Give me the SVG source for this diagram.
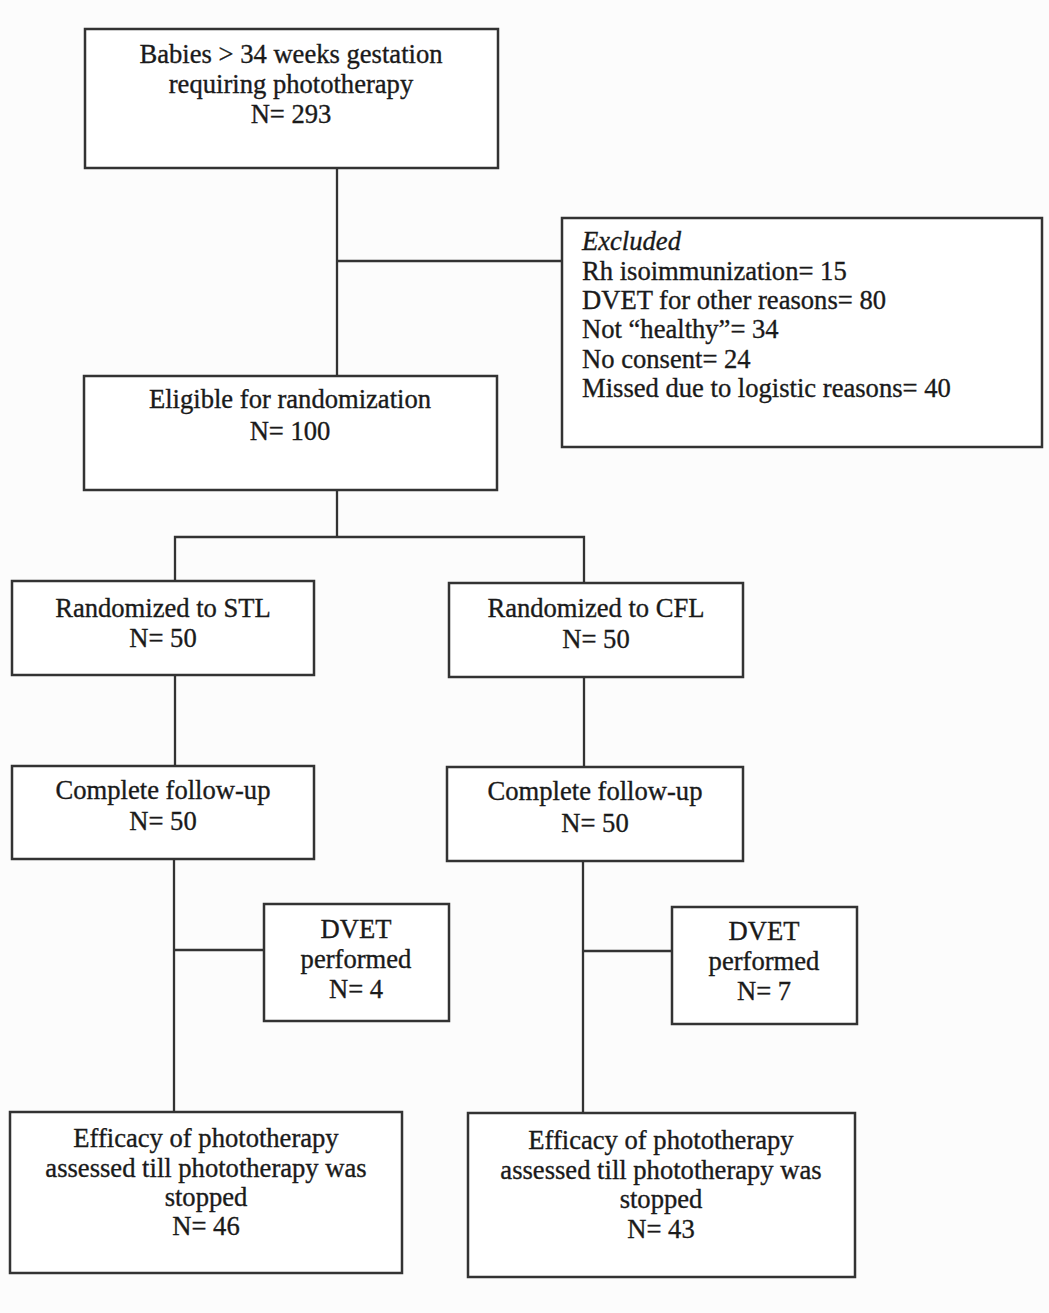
<svg xmlns="http://www.w3.org/2000/svg" width="1049" height="1313" viewBox="0 0 1049 1313">
<style>
.box{fill:#ffffff;stroke:#333333;stroke-width:2.5}
.ln{fill:none;stroke:#333333;stroke-width:2.3}
text{font-family:"Liberation Serif","Times New Roman",serif;font-size:26.6px;fill:#1a1a1a;stroke:#1a1a1a;stroke-width:0.35}
.c{text-anchor:middle}
.i{font-style:italic}
</style>
<rect width="1049" height="1313" fill="#fcfcfc"/>
<g id="connectors">
<path class="ln" d="M337,168 V376"/>
<path class="ln" d="M337,261 H562"/>
<path class="ln" d="M337,490 V537"/>
<path class="ln" d="M175,581 V537 H584 V583"/>
<path class="ln" d="M175,675 V766"/>
<path class="ln" d="M584,677 V767"/>
<path class="ln" d="M174,859 V1112"/>
<path class="ln" d="M174,950 H264"/>
<path class="ln" d="M583,861 V1113"/>
<path class="ln" d="M583,951 H672"/>
</g>
<g id="n-babies">
<rect class="box" x="85" y="29" width="413" height="139"/>
<text class="c" x="291" y="63">Babies &gt; 34 weeks gestation</text>
<text class="c" x="291" y="93">requiring phototherapy</text>
<text class="c" x="291" y="123">N= 293</text>
</g>
<g id="n-excluded">
<rect class="box" x="562" y="218" width="480" height="229"/>
<text class="i" x="582" y="250">Excluded</text>
<text x="582" y="280">Rh isoimmunization= 15</text>
<text x="582" y="309">DVET for other reasons= 80</text>
<text x="582" y="338">Not “healthy”= 34</text>
<text x="582" y="368">No consent= 24</text>
<text x="582" y="397">Missed due to logistic reasons= 40</text>
</g>
<g id="n-eligible">
<rect class="box" x="84" y="376" width="413" height="114"/>
<text class="c" x="290" y="408">Eligible for randomization</text>
<text class="c" x="290" y="440">N= 100</text>
</g>
<g id="n-stl">
<rect class="box" x="12" y="581" width="302" height="94"/>
<text class="c" x="163" y="617">Randomized to STL</text>
<text class="c" x="163" y="647">N= 50</text>
</g>
<g id="n-cfl">
<rect class="box" x="449" y="583" width="294" height="94"/>
<text class="c" x="596" y="617">Randomized to CFL</text>
<text class="c" x="596" y="648">N= 50</text>
</g>
<g id="n-follow-stl">
<rect class="box" x="12" y="766" width="302" height="93"/>
<text class="c" x="163" y="799">Complete follow-up</text>
<text class="c" x="163" y="830">N= 50</text>
</g>
<g id="n-follow-cfl">
<rect class="box" x="447" y="767" width="296" height="94"/>
<text class="c" x="595" y="800">Complete follow-up</text>
<text class="c" x="595" y="832">N= 50</text>
</g>
<g id="n-dvet-stl">
<rect class="box" x="264" y="904" width="185" height="117"/>
<text class="c" x="356" y="938">DVET</text>
<text class="c" x="356" y="968">performed</text>
<text class="c" x="356" y="998">N= 4</text>
</g>
<g id="n-dvet-cfl">
<rect class="box" x="672" y="907" width="185" height="117"/>
<text class="c" x="764" y="940">DVET</text>
<text class="c" x="764" y="970">performed</text>
<text class="c" x="764" y="1000">N= 7</text>
</g>
<g id="n-efficacy-stl">
<rect class="box" x="10" y="1112" width="392" height="161"/>
<text class="c" x="206" y="1147">Efficacy of phototherapy</text>
<text class="c" x="206" y="1177">assessed till phototherapy was</text>
<text class="c" x="206" y="1206">stopped</text>
<text class="c" x="206" y="1235">N= 46</text>
</g>
<g id="n-efficacy-cfl">
<rect class="box" x="468" y="1113" width="387" height="164"/>
<text class="c" x="661" y="1149">Efficacy of phototherapy</text>
<text class="c" x="661" y="1179">assessed till phototherapy was</text>
<text class="c" x="661" y="1208">stopped</text>
<text class="c" x="661" y="1238">N= 43</text>
</g>
</svg>
